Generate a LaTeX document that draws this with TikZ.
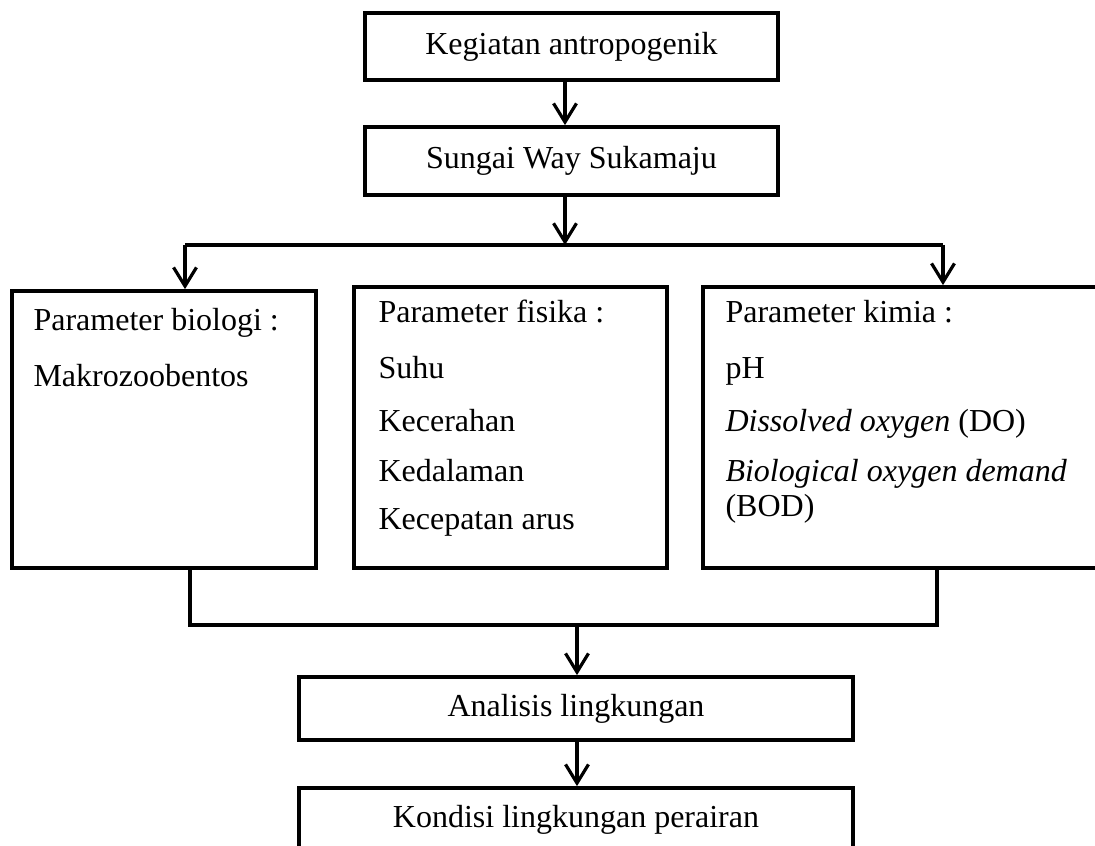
\documentclass[tikz,border=0pt]{standalone}
\usepackage{fontspec}
\setmainfont{Liberation Serif}
\usetikzlibrary{arrows.meta}
\tikzset{
  box/.style={draw=black, line width=1.4pt, rectangle, inner sep=0pt, align=center},
  txt/.style={anchor=base west, inner sep=0pt},
  arr/.style={line width=1.2pt, -{Straight Barb[length=7pt,width=8.6pt,line width=1.2pt]}},
  con/.style={line width=1.2pt}
}
\begin{document}
\begin{tikzpicture}[x=0.375pt,y=-0.375pt,font=\fontsize{12pt}{14pt}\selectfont]
\useasboundingbox (0,0) rectangle (1095,846);
\clip (0,0) rectangle (1095,846);
% boxes
\node[box, minimum width=154.875pt, minimum height=25.125pt] (b1) at (571.5,46.5) {Kegiatan antropogenik};
\node[box, minimum width=154.875pt, minimum height=25.5pt] (b2) at (571.5,161) {Sungai Way Sukamaju};
\node[box, minimum width=114pt, minimum height=103.875pt] (bio) at (164,429.5) {};
\node[box, minimum width=117.375pt, minimum height=105.375pt] (fis) at (510.5,427.5) {};
\node[box, minimum width=152.625pt, minimum height=105.375pt] (kim) at (906.5,427.5) {};
\node[box, minimum width=207.75pt, minimum height=23.625pt] (ana) at (576,708.5) {Analisis lingkungan};
\node[box, minimum width=207.75pt, minimum height=23.625pt] (kon) at (576,819.5) {Kondisi lingkungan perairan};
% texts
\node[txt] (bio1) at (33,331) {Parameter biologi :};
\node[txt] (bio2) at (33,387) {Makrozoobentos};
\node[txt] (fis1) at (378,323) {Parameter fisika :};
\node[txt] (fis2) at (378,379) {Suhu};
\node[txt] (fis3) at (378,432) {Kecerahan};
\node[txt] (fis4) at (378,482) {Kedalaman};
\node[txt] (fis5) at (378,530) {Kecepatan arus};
\node[txt] (kim1) at (725,323) {Parameter kimia :};
\node[txt] (kim2) at (725,379) {pH};
\node[txt] (kim3) at (725,432) {\textit{Dissolved oxygen} (DO)};
\node[txt] (kim4) at (725,482) {\textit{Biological oxygen demand}};
\node[txt] (kim5) at (725,517) {(BOD)};
% junction coordinates
\coordinate (t) at (565,245);
\coordinate (jl) at (185,245);
\coordinate (jr) at (943,245);
\coordinate (bl) at (190,625);
\coordinate (br) at (937,625);
\coordinate (bm) at (577,625);
% connectors
\draw[arr] (b1.south -| t) -- (b2.north -| t);
\draw[arr] (b2.south -| t) -- (t);
\draw[con] (jl) -- (jr);
\draw[arr] (jl) -- (jl |- bio.north);
\draw[arr] (jr) -- (jr |- kim.north);
\draw[con] (bio.south -| bl) -- (bl) -- (br) -- (kim.south -| br);
\draw[arr] (bm) -- (bm |- ana.north);
\draw[arr] (ana.south -| bm) -- (kon.north -| bm);
\end{tikzpicture}
\end{document}
